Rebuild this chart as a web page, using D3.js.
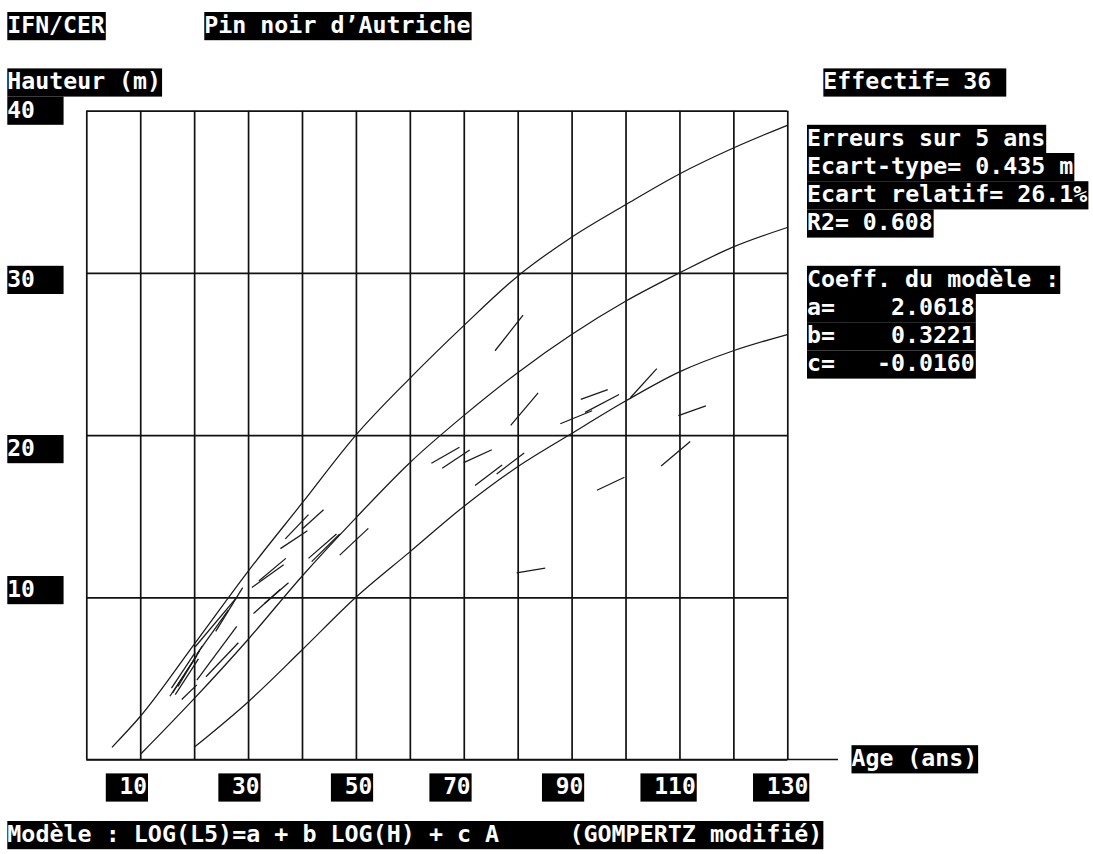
<!DOCTYPE html>
<html>
<head>
<meta charset="utf-8">
<script src="https://cdn.jsdelivr.net/npm/d3@7"></script>
<style>
  html, body { margin: 0; padding: 0; background: #fff; }
  svg { display: block; }
  text { white-space: pre; }
</style>
</head>
<body>
<script>
// ---- Data -------------------------------------------------------------
const ageTicks = [10, 30, 50, 70, 90, 110, 130];
const heightTicks = [10, 20, 30, 40];
const ageGrid = d3.range(0, 131, 10);
const heightGrid = d3.range(0, 41, 10);

// Model guide curves: [age (ans), hauteur (m)]
const curveHigh = [[4.75, 0.75], [10, 2.65], [20, 7.1], [30, 11.6], [40, 15.8], [50, 20.0],
  [60, 23.5], [70, 26.75], [80, 29.8], [90, 32.2], [100, 34.2], [110, 36.1], [120, 37.7], [130, 39.1]];
const curveMid = [[10, 0.3], [20, 3.75], [30, 7.4], [40, 11.3], [50, 14.9], [60, 18.3],
  [70, 21.2], [80, 23.85], [90, 26.2], [100, 28.25], [110, 30.0], [120, 31.6], [130, 32.8]];
const curveLow = [[20, 0.75], [30, 3.55], [40, 6.75], [50, 10.0], [60, 12.8], [70, 15.6],
  [80, 18.05], [90, 20.1], [100, 22.1], [110, 23.9], [120, 25.2], [130, 26.2]];

// Observed growth segments: [age1, h1, age2, h2]
const segments = [
  [15.5, 3.9, 20.5, 6.4], [16.0, 4.1, 21.0, 6.7], [15.8, 4.4, 20.2, 6.6],
  [16.5, 4.0, 20.8, 6.2], [17.0, 4.5, 21.5, 7.0], [17.7, 3.7, 20.5, 4.6],
  [20.5, 4.9, 27.9, 8.2], [22.2, 5.1, 28.2, 7.2], [20.5, 6.5, 26.3, 9.2],
  [20.2, 6.95, 27.9, 10.0],
  [30.7, 10.6, 36.6, 12.0], [32.0, 11.0, 37.0, 12.4], [31.0, 9.0, 36.0, 10.5],
  [36.0, 13.0, 41.0, 14.1], [36.9, 13.6, 41.2, 15.1], [40.0, 14.2, 44.0, 15.4],
  [41.2, 12.4, 46.4, 13.9], [41.8, 12.2, 47.0, 13.9], [47.0, 12.6, 52.3, 14.25],
  [64.0, 18.26, 69.2, 19.25], [66.0, 17.95, 71.1, 19.08], [70.0, 18.3, 75.2, 19.1],
  [72.1, 16.9, 77.1, 18.15], [76.1, 17.6, 81.2, 18.9],
  [75.8, 25.2, 81.0, 27.4], [78.7, 20.6, 83.8, 22.6], [91.7, 22.2, 96.7, 22.8],
  [87.9, 20.7, 93.8, 21.5], [92.5, 21.4, 98.8, 22.5], [100.9, 22.3, 105.8, 24.1],
  [109.8, 21.2, 114.9, 21.8], [106.6, 18.1, 112.0, 19.6], [94.7, 16.6, 99.8, 17.4],
  [79.8, 11.5, 85.1, 11.8], [33.0, 9.6, 37.5, 10.9], [24.0, 7.9, 29.0, 10.6]
];

// Text lines
const headerLeft = "IFN/CER";
const headerTitle = "Pin noir d’Autriche";
const yTitle = "Hauteur (m)";
const xTitle = "Age (ans)";
const countLine = "Effectif= 36 ";
const errorLines = ["Erreurs sur 5 ans", "Ecart-type= 0.435 m", "Ecart relatif= 26.1%", "R2= 0.608"];
const coeffLines = ["Coeff. du modèle :", "a=    2.0618", "b=    0.3221", "c=   -0.0160"];
const modelLine = "Modèle : LOG(L5)=a + b LOG(H) + c A     (GOMPERTZ modifié)";

// ---- Layout -----------------------------------------------------------
const W = 1093, H = 854;
const CW = 14.07;   // character cell width
const RH = 28.2;    // character cell height
const X0 = 7.3, Y0 = 12;
const colX = c => X0 + c * CW;
const rowY = r => Y0 + r * RH;

const svg = d3.select("body").append("svg").attr("width", W).attr("height", H);

const x = d3.scaleLinear().domain([0, 130]).range([86.3, 787.3]);
const y = d3.scaleLinear().domain([0, 40]).range([759.5, 110.7]);

// Grid (vertical lines every 10 years, horizontal every 10 m)
const gridColor = "#111", gridWidth = 1.7;
svg.append("g")
  .attr("transform", `translate(0,${y(0)})`)
  .call(d3.axisBottom(x).tickValues(ageGrid).tickSize(-(y(0) - y(40))).tickFormat(""))
  .call(g => g.select(".domain").remove())
  .call(g => g.selectAll("line").attr("stroke", gridColor).attr("stroke-width", gridWidth));
svg.append("g")
  .attr("transform", `translate(${x(0)},0)`)
  .call(d3.axisLeft(y).tickValues(heightGrid).tickSize(-(x(130) - x(0))).tickFormat(""))
  .call(g => g.select(".domain").remove())
  .call(g => g.selectAll("line").attr("stroke", gridColor).attr("stroke-width", gridWidth));
// Age axis line runs past the last grid line
svg.append("line")
  .attr("x1", x(0)).attr("x2", x(139.4)).attr("y1", y(0)).attr("y2", y(0))
  .attr("stroke", gridColor).attr("stroke-width", gridWidth);

// Curves
const line = d3.line().x(d => x(d[0])).y(d => y(d[1])).curve(d3.curveMonotoneX);
svg.append("g").selectAll("path")
  .data([curveHigh, curveMid, curveLow])
  .join("path")
  .attr("d", line)
  .attr("fill", "none")
  .attr("stroke", "#1a1a1a")
  .attr("stroke-width", 1.25);

// Observed segments
svg.append("g").selectAll("line")
  .data(segments)
  .join("line")
  .attr("x1", d => x(d[0])).attr("y1", d => y(d[1]))
  .attr("x2", d => x(d[2])).attr("y2", d => y(d[3]))
  .attr("stroke", "#1a1a1a")
  .attr("stroke-width", 1.25);

// ---- Text cells (white on black) --------------------------------------
function cellText(str, left, top) {
  const g = svg.append("g");
  g.append("rect")
    .attr("x", left).attr("y", top)
    .attr("width", str.length * CW).attr("height", RH)
    .attr("fill", "#000");
  g.append("text")
    .attr("x", left).attr("y", top + 21)
    .attr("font-family", "DejaVu Sans Mono")
    .attr("font-weight", "bold")
    .attr("font-size", 23)
    .attr("fill", "#fff")
    .attr("textLength", str.length * CW - 1)
    .attr("lengthAdjust", "spacingAndGlyphs")
    .text(str);
}
const panelX = 807;

cellText(headerLeft, colX(0), rowY(0));
cellText(headerTitle, colX(14), rowY(0));
cellText(yTitle, colX(0), rowY(2));
cellText(countLine, colX(58), rowY(2));
errorLines.forEach((s, i) => cellText(s, panelX, rowY(4 + i)));
coeffLines.forEach((s, i) => cellText(s, panelX, rowY(9 + i)));

// Height labels snap to the character row nearest their grid line
heightTicks.forEach(v => {
  const row = Math.round((y(v) - Y0) / RH - 0.38);
  cellText(String(v).padEnd(4, " "), colX(0), rowY(row));
});

// Age labels snap to the character column centred on their grid line
ageTicks.forEach(v => {
  const s = " " + v;
  const col = Math.round((x(v) - X0) / CW - s.length / 2 - 0.7);
  cellText(s, colX(col), rowY(27));
});

cellText(xTitle, colX(60), rowY(26));
cellText(modelLine, colX(0), 821);
</script>
</body>
</html>
